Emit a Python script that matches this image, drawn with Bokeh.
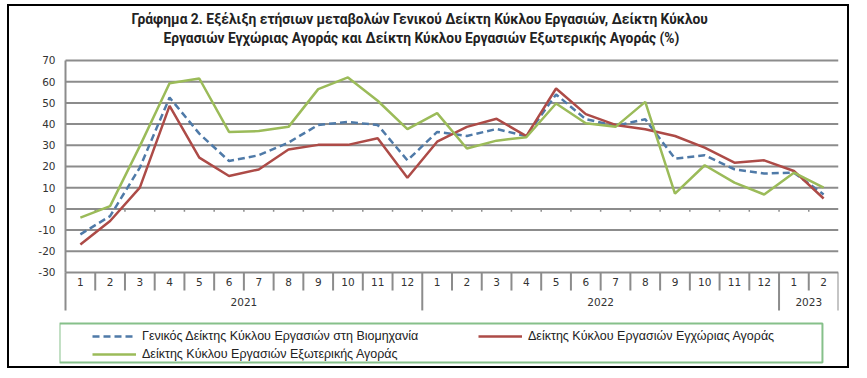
from bokeh.plotting import figure
from bokeh.models import Range1d, FixedTicker, Legend, LegendItem
from bokeh.core.properties import value
from bokeh.embed import file_html
from bokeh.resources import INLINE

# ---- data -------------------------------------------------------------
months = ["1", "2", "3", "4", "5", "6", "7", "8", "9", "10", "11", "12",
          "1", "2", "3", "4", "5", "6", "7", "8", "9", "10", "11", "12",
          "1", "2"]
years = ["2021", "2022", "2023"]
year_sizes = [12, 12, 2]

general = [-12, -3.4, 19.5, 52.5, 35.5, 22.6, 25.3, 31.3, 39.6, 41, 39.6, 22.9,
           36.3, 34.4, 37.7, 34.3, 54, 42.3, 39.2, 42.3, 23.7, 25.3, 18.7, 16.7,
           17.1, 6.8]
domestic = [-16.8, -5.7, 10, 48.6, 24.2, 15.5, 18.6, 28, 30.2, 30.2, 33.3, 14.7,
            31.7, 38.7, 42.5, 34.3, 56.8, 44.7, 39.6, 37.6, 34.4, 28.9, 21.8, 22.9,
            17.9, 4.9]
external = [-4.1, 1.3, 29.6, 59.3, 61.5, 36.3, 36.7, 38.7, 56.5, 62, 51, 37.6,
            45.2, 28.5, 32.2, 33.8, 49.7, 40.4, 38.7, 50.5, 7.2, 20.6, 12.4, 6.8,
            17.1, 10]
y_ticks = [-30, -20, -10, 0, 10, 20, 30, 40, 50, 60, 70]

names = ["Γενικός Δείκτης Κύκλου Εργασιών στη Βιομηχανία",
         "Δείκτης Κύκλου Εργασιών Εγχώριας Αγοράς",
         "Δείκτης Κύκλου Εργασιών Εξωτερικής Αγοράς"]
title_lines = ["Γράφημα 2. Εξέλιξη ετήσιων μεταβολών Γενικού Δείκτη Κύκλου Εργασιών,  Δείκτη Κύκλου",
               "Εργασιών Εγχώριας Αγοράς και Δείκτη Κύκλου Εργασιών Εξωτερικής Αγοράς (%)"]

# ---- derived positions -------------------------------------------------
n = len(months)
x = list(range(1, n + 1))
ymin_axis = min(y_ticks)
ymax_axis = max(y_ticks)
month_row = ymin_axis - 8.5      # bottom of month row
year_row = ymin_axis - 17.9      # bottom of year row

GRID = "#8c8c8c"
TXT = "#333333"

p = figure(width=842, height=364, output_backend="svg", toolbar_location=None,
           x_range=Range1d(0.298, n + 0.5), y_range=Range1d(-74.34, 95.47),
           min_border_left=50, min_border_right=13, min_border_top=0,
           min_border_bottom=4)
p.styles = {"border": "2px solid black", "margin": "4px 0 0 7px"}
p.outline_line_color = None
p.xaxis.visible = False
p.xgrid.visible = False
p.ygrid.visible = False

tick = FixedTicker(ticks=y_ticks)
p.yaxis.ticker = tick
p.yaxis.major_label_overrides = {t: str(t) for t in y_ticks}
p.yaxis.axis_line_color = None
p.yaxis.major_tick_line_color = None
p.yaxis.minor_tick_line_color = None
p.yaxis.major_tick_out = 0
p.yaxis.major_label_standoff = 4
p.yaxis.major_label_text_font = "DejaVu Sans"
p.yaxis.major_label_text_font_size = "10.5px"
p.yaxis.major_label_text_color = TXT

# horizontal grid lines spanning the category area
x_left, x_right = 0.5, n + 0.5
p.segment(x0=[x_left] * len(y_ticks), y0=y_ticks, x1=[x_right] * len(y_ticks),
          y1=y_ticks, line_color=GRID, line_width=2)

# title (two centred lines above the plot area)
p.text(x=[12.47, 12.47], y=[89.8, 80.4], text=title_lines, text_align="center",
       text_baseline="middle", text_font=value("Roboto"), text_font_size="13.8px",
       text_font_style="bold", text_color="#222222")

# category table below the plot
bounds = [i + 0.5 for i in range(0, n + 1)]
ends = {0}
acc = 0
for s in year_sizes:
    acc += s
    ends.add(acc)
seg_x, seg_y0, seg_y1 = [], [], []
for i, b in enumerate(bounds):
    seg_x.append(b)
    seg_y0.append(ymin_axis)
    seg_y1.append(year_row if i in ends else month_row)
p.segment(x0=seg_x, y0=seg_y0, x1=seg_x, y1=seg_y1, line_color=GRID, line_width=2)
# left frame line across plot area
p.segment(x0=[x_left], y0=[ymax_axis], x1=[x_left], y1=[ymin_axis],
          line_color=GRID, line_width=2)
# small ticks on zero line
inner = bounds[1:-1]
p.segment(x0=inner, y0=[0] * len(inner), x1=inner, y1=[-1.4] * len(inner),
          line_color=GRID, line_width=1.5)

p.text(x=x, y=[ymin_axis - 4.3] * n, text=months, text_align="center",
       text_baseline="middle", text_font=value("DejaVu Sans"),
       text_font_size="10.5px", text_color=TXT)
yc = []
acc = 0
for s in year_sizes:
    yc.append(acc + (s + 1) / 2)
    acc += s
p.text(x=yc, y=[ymin_axis - 13.8] * len(years), text=years, text_align="center",
       text_baseline="middle", text_font=value("DejaVu Sans"),
       text_font_size="10.5px", text_color=TXT)

# legend box
p.quad(left=[0.298], right=[25.96], top=[-54.06], bottom=[-72.45],
       fill_alpha=0, line_color="#86c08a", line_width=2)

# series
r1 = p.line(x, general, line_color="#4f7aa8", line_width=2.5, line_dash="7 4")
r2 = p.line(x, domestic, line_color="#ad4b47", line_width=2.5)
r3 = p.line(x, external, line_color="#9bbb59", line_width=2.5)

legend = Legend(items=[LegendItem(label=names[0], renderers=[r1]),
                       LegendItem(label=names[2], renderers=[r3]),
                       LegendItem(label=names[1], renderers=[r2])],
                ncols=2, location=(33, 5), border_line_color=None,
                background_fill_alpha=0, padding=0, margin=0, spacing=4,
                glyph_width=44, glyph_height=14, label_height=14,
                label_standoff=6, label_width=332,
                label_text_font="Liberation Sans", label_text_font_size="12.5px",
                label_text_color="#222222")
p.add_layout(legend, "center")

open("out.html", "w").write(file_html(p, INLINE))
